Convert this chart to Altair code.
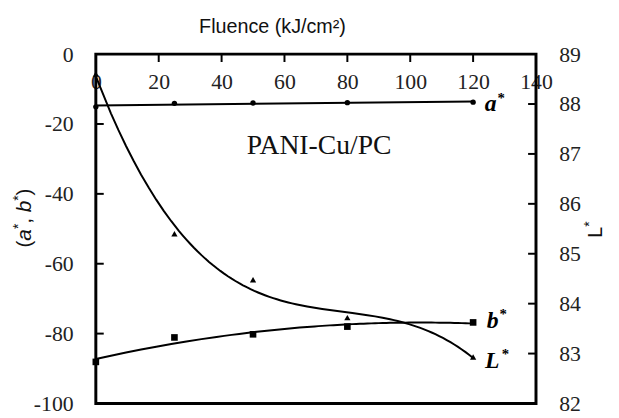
import altair as alt
import pandas as pd

# ---- data ----
fluence = [0, 25, 50, 80, 120]
a_star = [-15.1, -14.1, -14.0, -13.9, -13.75]
b_star = [-88.1, -81.1, -80.2, -78.0, -76.8]
L_star = [88.6, 85.4, 84.48, 83.72, 82.93]

x_tick_labels = [0, 20, 40, 60, 80, 100, 120, 140]
x_inner_ticks = [20, 40, 60, 80, 100, 120]
left_tick_labels = [0, -20, -40, -60, -80, -100]
left_inner_ticks = [-20, -40, -60, -80]
right_tick_labels = [82, 83, 84, 85, 86, 87, 88, 89]
right_inner_ticks = [83, 84, 85, 86, 87, 88]

ab_label_text = ["a", "b"]
ab_label_x = [123.7, 124.3]
ab_label_y = [-16.4, -78.5]
L_label_text = ["L"]
L_label_x = [123.8]
L_label_y = [82.72]
sample_name = "PANI-Cu/PC"

W, H = 446, 354
SERIF = "Liberation Serif"
SANS = "Liberation Sans"
LBL = "#222222"

x_enc = alt.X(
    "fluence:Q",
    scale=alt.Scale(domain=[0, 140], nice=False, zero=False),
    axis=alt.Axis(orient="top", values=x_tick_labels, tickSize=0, domain=False, grid=False,
                  labelPadding=-40, labelFont=SERIF, labelFontSize=22, labelColor=LBL,
                  labelFlush=False, labelOverlap=False, title=None,
                  labelExpr="toString(datum.value)"),
)
yL = alt.Y(
    "val:Q",
    scale=alt.Scale(domain=[-100, 0], nice=False, zero=False),
    axis=alt.Axis(orient="left", values=left_tick_labels, tickSize=0, domain=False, grid=False,
                  labelPadding=23, labelFont=SERIF, labelFontSize=22, labelColor=LBL,
                  labelFlush=False, labelOverlap=False, title=None,
                  labelExpr="toString(datum.value)"),
)
yR = alt.Y(
    "L:Q",
    scale=alt.Scale(domain=[82, 89], nice=False, zero=False),
    axis=alt.Axis(orient="right", values=right_tick_labels, tickSize=0, domain=False, grid=False,
                  labelPadding=23, labelFont=SERIF, labelFontSize=22, labelColor=LBL,
                  labelFlush=False, labelOverlap=False, title=None,
                  labelExpr="toString(datum.value)"),
)

df_a = pd.DataFrame({"fluence": fluence, "val": a_star})
df_b = pd.DataFrame({"fluence": fluence, "val": b_star})
df_L = pd.DataFrame({"fluence": fluence, "L": L_star})

line_style = dict(color="black", strokeWidth=2)

a_line = alt.Chart(df_a).transform_regression("fluence", "val", extent=[0, 120]).mark_line(**line_style).encode(x=x_enc, y=yL)
a_pts = alt.Chart(df_a).mark_point(shape="circle", filled=True, size=30, color="black", opacity=1).encode(x=x_enc, y=yL)
b_line = alt.Chart(df_b).transform_regression("fluence", "val", method="poly", order=2, extent=[0, 120]).mark_line(**line_style).encode(x=x_enc, y=yL)
b_pts = alt.Chart(df_b).mark_point(shape="square", filled=True, size=45, color="black", opacity=1).encode(x=x_enc, y=yL)

left_ticks = alt.Chart(pd.DataFrame({"val": left_inner_ticks})).mark_rule(color="black", strokeWidth=2).encode(
    y=yL, x=alt.value(0), x2=alt.value(8))
top_ticks = alt.Chart(pd.DataFrame({"fluence": x_inner_ticks})).mark_rule(color="black", strokeWidth=2).encode(
    x=x_enc, y=alt.value(0), y2=alt.value(8))

df_ablab = pd.DataFrame({"fluence": ab_label_x, "val": ab_label_y, "t": ab_label_text})
ab_lab = alt.Chart(df_ablab).mark_text(font=SERIF, fontSize=24, fontStyle="italic", fontWeight="bold",
                                       align="left", baseline="alphabetic", color="black").encode(x=x_enc, y=yL, text="t:N")
ab_star = alt.Chart(df_ablab).transform_calculate(s="'*'").mark_text(
    font=SERIF, fontSize=15, fontWeight="bold", align="left", baseline="alphabetic", dx=13, dy=-9,
    color="black").encode(x=x_enc, y=yL, text="s:N")

name_lab = alt.Chart(pd.DataFrame({"fluence": [71], "val": [-28.5], "t": [sample_name]})).mark_text(
    font=SERIF, fontSize=28, align="center", baseline="alphabetic", color="#111").encode(x=x_enc, y=yL, text="t:N")

left_group = alt.layer(a_line, b_line, a_pts, b_pts, left_ticks, top_ticks, ab_lab, ab_star, name_lab)

L_line = alt.Chart(df_L).transform_regression("fluence", "L", method="poly", order=3, extent=[0, 120]).mark_line(**line_style).encode(x=x_enc, y=yR)
L_pts = alt.Chart(df_L).mark_point(shape="triangle-up", filled=True, size=40, color="black", opacity=1).encode(x=x_enc, y=yR)
right_ticks = alt.Chart(pd.DataFrame({"L": right_inner_ticks})).mark_rule(color="black", strokeWidth=2).encode(
    y=yR, x=alt.value(W - 8), x2=alt.value(W))
df_Llab = pd.DataFrame({"fluence": L_label_x, "L": L_label_y, "t": L_label_text})
L_lab = alt.Chart(df_Llab).mark_text(font=SERIF, fontSize=24, fontStyle="italic", fontWeight="bold",
                                     align="left", baseline="alphabetic", color="black").encode(x=x_enc, y=yR, text="t:N")
L_star_lab = alt.Chart(df_Llab).transform_calculate(s="'*'").mark_text(
    font=SERIF, fontSize=15, fontWeight="bold", align="left", baseline="alphabetic", dx=17, dy=-9,
    color="black").encode(x=x_enc, y=yR, text="s:N")

right_group = alt.layer(L_line, L_pts, right_ticks, L_lab, L_star_lab)


def piece(txt, px, py, size, font=SANS, style="normal", angle=0, align="left", baseline="alphabetic"):
    return alt.Chart(pd.DataFrame({"t": [txt]})).mark_text(
        font=font, fontSize=size, fontStyle=style, angle=angle, align=align, baseline=baseline,
        color="#111").encode(text="t:N", x=alt.value(px), y=alt.value(py))


frame = alt.Chart(pd.DataFrame({"t": [0]})).mark_rect(filled=False, stroke="black", strokeWidth=3).encode(
    x=alt.value(0), x2=alt.value(W), y=alt.value(0), y2=alt.value(H))

titles = [
    piece("Fluence (kJ/cm²)", 179, -21, 20, align="center"),
    # left title (a*, b*) rotated
    piece("(", -66, 196, 21, angle=270),
    piece("a", -66, 189, 21, style="italic", angle=270),
    piece("*", -74, 177.3, 14, angle=270),
    piece(",", -66, 171.9, 21, angle=270),
    piece("b", -66, 160.3, 21, style="italic", angle=270),
    piece("*", -74, 148.6, 14, angle=270),
    piece(")", -66, 143.2, 21, angle=270),
    # right title L*
    piece("L", 513, 186, 20, angle=270),
    piece("*", 505, 174.9, 14, angle=270),
]

chart = alt.layer(left_group, right_group, frame, *titles).resolve_scale(y="independent").properties(
    width=W, height=H,
    padding={"left": 89, "top": 44, "right": 76, "bottom": 12},
    autosize=alt.AutoSizeParams(type="none"),
).configure_view(stroke=None)

chart.save("out.html", embed_options={"renderer": "svg", "actions": False})
